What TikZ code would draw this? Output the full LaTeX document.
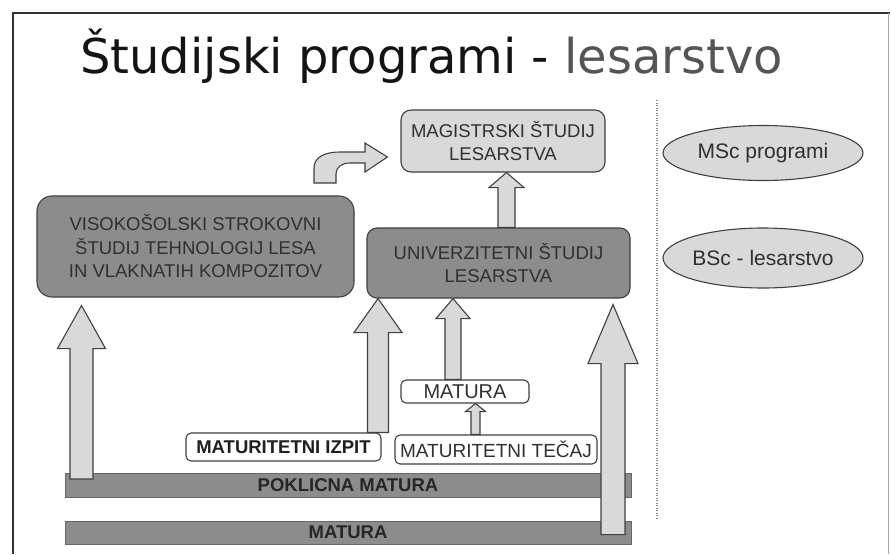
\documentclass[tikz,border=0pt]{standalone}
\usepackage{fontspec}
\setmainfont{Liberation Sans}
\newfontfamily\titlefont{DejaVu Sans}
\usetikzlibrary{calc}
\definecolor{darkfill}{HTML}{8C8C8C}
\definecolor{lightfill}{HTML}{D9D9D9}
\definecolor{edge}{HTML}{404040}
\definecolor{txt}{HTML}{303030}
\definecolor{titlegray}{HTML}{555555}
\tikzset{
  darkbox/.style={draw=edge, line width=1.1pt, fill=darkfill, text=txt, align=center, inner sep=0pt,
     font=\fontsize{18.5}{23.5}\selectfont},
  lightbox/.style={draw=edge, line width=1.1pt, fill=lightfill, text=txt, align=center, inner sep=0pt,
     font=\fontsize{18.5}{23.5}\selectfont},
  whitebox/.style={draw=edge, line width=1.1pt, fill=white, text=txt, inner sep=0pt, rounded corners=5pt},
  barbox/.style={draw=edge!80, line width=0.8pt, fill=darkfill, text=black!85, inner sep=0pt,
     font=\fontsize{18.5}{22}\selectfont\bfseries},
  oval/.style={ellipse, draw=edge, line width=1.1pt, fill=lightfill, text=txt, inner sep=0pt,
     font=\fontsize{21}{25}\selectfont},
  blockarr/.style={draw=edge, line width=1.1pt, fill=lightfill, line join=miter},
}
\usetikzlibrary{shapes.geometric}
% #1 bottom point, #2 tip point, #3 shaft half width, #4 head half width, #5 head length
\newcommand\blockarrow[5]{%
  \filldraw[blockarr] let \p1=#1, \p2=#2 in
    (\x2-#3pt,\y1) -- (\x2-#3pt,\y2-#5pt) -- (\x2-#4pt,\y2-#5pt) -- (\x2,\y2)
    -- (\x2+#4pt,\y2-#5pt) -- (\x2+#3pt,\y2-#5pt) -- (\x2+#3pt,\y1) -- cycle;}
\begin{document}
\begin{tikzpicture}[x=1pt,y=-1pt]
\useasboundingbox (0,0) rectangle (890,554);
\fill[white] (0,0) rectangle (890,554);
% frame
\draw[line width=1.5pt, black!80] (13,554) -- (13,13) -- (890,13);
\draw[line width=1.5pt, black!35] (888.5,13) -- (888.5,554);
% title
\node[anchor=base west, inner sep=0pt, font=\titlefont\fontsize{48}{56}\selectfont] (title) at (80,73)
  {\color{black!92}Študijski programi - \color{titlegray}lesarstvo};
% separator
\draw[line width=1.3pt, black!45, dash pattern=on 1.3pt off 1.2pt] (657,100) -- (657,518);
% bars
\node[barbox, minimum width=566pt, minimum height=24pt] (pokl) at (348,485) {POKLICNA MATURA};
\node[barbox, minimum width=566pt, minimum height=23pt] (mat) at (348,532.5) {MATURA};
% boxes
\node[darkbox, rounded corners=15pt, minimum width=317pt, minimum height=101pt] (vis) at (195.5,246.5)
  {VISOKOŠOLSKI STROKOVNI\\ŠTUDIJ TEHNOLOGIJ LESA\\IN VLAKNATIH KOMPOZITOV};
\node[darkbox, rounded corners=10pt, minimum width=263pt, minimum height=70pt] (univ) at (498.5,263)
  {UNIVERZITETNI ŠTUDIJ\\LESARSTVA};
\node[lightbox, rounded corners=10pt, minimum width=204pt, minimum height=62pt] (mag) at (503,141)
  {MAGISTRSKI ŠTUDIJ\\LESARSTVA};
\node[whitebox, minimum width=195pt, minimum height=28pt, text=black!88,
  font=\fontsize{18.5}{22}\selectfont\bfseries] (izpit) at (283.5,447) {MATURITETNI IZPIT};
\node[whitebox, minimum width=202pt, minimum height=29pt,
  font=\fontsize{19}{22}\selectfont] (tecaj) at (496,449.5) {MATURITETNI TEČAJ};
\node[whitebox, minimum width=128pt, minimum height=23pt,
  font=\fontsize{20}{22}\selectfont] (matsm) at (465,391.5) {MATURA};
% ovals
\node[oval, minimum width=200pt, minimum height=55pt] (msc) at (763,153) {MSc programi};
\node[oval, minimum width=200pt, minimum height=60pt] (bsc) at (763,258) {BSc - lesarstvo};
% block arrows
\blockarrow{(81.5,479)}{($(vis.south -| 81.5,0)+(0,8)$)}{11.5}{24}{43}
\blockarrow{(izpit.north -| 378,0)}{(univ.south -| 378,0)}{10.5}{24}{34}
\blockarrow{(matsm.north -| 453,0)}{(univ.south -| 453,0)}{8}{17}{20}
\blockarrow{(tecaj.north -| 475.5,0)}{(matsm.south -| 475.5,0)}{4.5}{10}{8}
\blockarrow{($(mat.north -| 613,0)+(0,14)$)}{($(univ.south -| 613,0)+(0,6)$)}{12}{25}{59}
\blockarrow{(univ.north -| 506.5,0)}{(mag.south -| 506.5,0)}{8.5}{17.5}{15}
% bent arrow
\coordinate (bentfoot) at ($(vis.north -| 325,0)+(0,-13)$);
\coordinate (benttip) at ($(mag.west)+(-13,16)$);
\filldraw[blockarr] (314,183) -- (314,168) .. controls (314,157) and (325,152) .. (340,152)
  -- (365,152) -- (365,143) -- (benttip) -- (365,172) -- (365,163) -- (350,163)
  .. controls (342,163) and (336,167) .. (336,174) -- (336,183) -- cycle;
\end{tikzpicture}
\end{document}
